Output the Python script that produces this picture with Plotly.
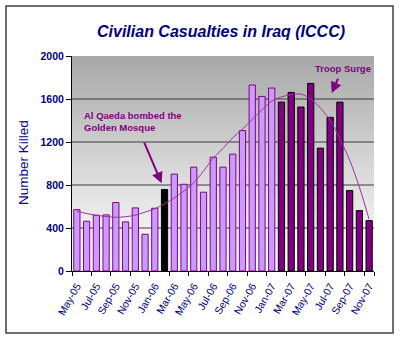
import plotly.graph_objects as go

months = ["May-05", "Jun-05", "Jul-05", "Aug-05", "Sep-05", "Oct-05", "Nov-05", "Dec-05",
          "Jan-06", "Feb-06", "Mar-06", "Apr-06", "May-06", "Jun-06", "Jul-06", "Aug-06",
          "Sep-06", "Oct-06", "Nov-06", "Dec-06", "Jan-07", "Feb-07", "Mar-07", "Apr-07",
          "May-07", "Jun-07", "Jul-07", "Aug-07", "Sep-07", "Oct-07", "Nov-07"]
killed = [571, 463, 519, 522, 637, 457, 587, 342, 584, 758, 901, 807, 966, 733, 1059, 966,
          1087, 1307, 1730, 1624, 1702, 1571, 1661, 1525, 1745, 1143, 1429, 1571, 748, 562, 469]
period = ["before"] * 9 + ["mosque"] + ["before"] * 11 + ["surge"] * 10
trend = [555, 535, 518, 507, 500, 505, 520, 548, 580, 625, 680, 745, 820, 930, 1050, 1140,
         1240, 1320, 1410, 1500, 1580, 1620, 1640, 1645, 1600, 1515, 1400, 1230, 1030, 780, 480]
y_ticks = [0, 400, 800, 1200, 1600, 2000]
x_ticks = months[::2]

fill_map = {"before": "#CC99FF", "mosque": "#000000", "surge": "#800080"}
line_map = {"before": "#800080", "mosque": "#000000", "surge": "#000000"}

navy = "#000080"
purple = "#800080"

fig = go.Figure()
fig.add_trace(go.Bar(
    x=months, y=killed,
    marker=dict(color=[fill_map[p] for p in period],
                line=dict(color=[line_map[p] for p in period], width=1)),
    showlegend=False,
))
fig.add_trace(go.Scatter(
    x=months, y=trend, mode="lines",
    line=dict(color="#9933A0", width=1, shape="spline"),
    showlegend=False,
))

shapes = []
# gradient background for plot area (overlapping bands to avoid seams)
n = 50
top = y_ticks[-1]
for k in range(n):
    t0 = k / n
    t1 = min(1.0, (k + 1.6) / n)
    tm = (k + 0.5) / n
    c = int(round(255 - 88 * tm ** 1.1))
    shapes.append(dict(type="rect", xref="paper", yref="y", x0=0, x1=1,
                       y0=top * t0, y1=top * t1,
                       fillcolor=f"rgb({c},{c},{c})", line=dict(width=0), layer="below"))
for v in y_ticks[1:-1]:
    shapes.append(dict(type="line", xref="paper", yref="y", x0=0, x1=1, y0=v, y1=v,
                       line=dict(color="#3a3a3a", width=1), layer="below"))
# outer frame
shapes.append(dict(type="rect", xref="paper", yref="paper", x0=-0.2185, x1=1.063,
                   y0=-0.2884, y1=1.2326, line=dict(color="#404040", width=1.5)))

annotations = [
    dict(text="<b><i>Civilian Casualties in Iraq (ICCC)</i></b>", xref="paper", yref="paper",
         x=(221 - 72) / 302, y=(271 - 31) / 215, showarrow=False,
         font=dict(family="Arial", size=16, color=navy), xanchor="center", yanchor="middle"),
    dict(text="Number Killed", xref="paper", yref="paper", x=(23 - 72) / 302, y=(271 - 163) / 215,
         textangle=-90, showarrow=False, font=dict(family="Arial", size=13.5, color=navy),
         xanchor="center", yanchor="middle"),
    dict(text="<b>Al Qaeda bombed the<br>Golden Mosque</b>", xref="paper", yref="paper",
         x=(82 - 72) / 302, y=(271 - 121) / 215, showarrow=False, align="left",
         font=dict(family="Arial", size=9.5, color=purple), xanchor="left", yanchor="middle"),
    dict(text="", x=8.7, y=817, xref="x", yref="y", showarrow=True, ax=-18, ay=-42,
         arrowhead=2, arrowsize=1.1, arrowwidth=2, arrowcolor=purple),
    dict(text="<b>Troop Surge</b>", xref="paper", yref="paper",
         x=(343 - 72) / 302, y=(271 - 68) / 215, showarrow=False,
         font=dict(family="Arial", size=9.5, color=purple), xanchor="center", yanchor="middle"),
    dict(text="", x=26.16, y=1655, xref="x", yref="y", showarrow=True, ax=7, ay=-16,
         arrowhead=2, arrowsize=1.1, arrowwidth=2, arrowcolor=purple),
]

fig.update_layout(
    width=400, height=340,
    margin=dict(l=72, r=26, t=56, b=69),
    paper_bgcolor="white", plot_bgcolor="white",
    bargap=0.36,
    shapes=shapes, annotations=annotations,
    font=dict(family="Arial", color=navy),
)
fig.update_xaxes(
    type="category", categoryorder="array", categoryarray=months,
    tickmode="array", tickvals=x_ticks, ticktext=x_ticks,
    tickangle=-60, ticklabelstandoff=4,
    tickson="boundaries", ticks="outside", ticklen=4, tickcolor="black",
    showline=True, linecolor="black", linewidth=1, showgrid=False,
    tickfont=dict(family="Arial", size=10.5, color=navy),
)
fig.update_yaxes(
    range=[0, 2000], tickmode="array", tickvals=y_ticks,
    ticktext=[f"<b>{v}</b>" for v in y_ticks],
    ticks="outside", ticklen=5, tickcolor="black",
    showline=True, linecolor="black", linewidth=1, showgrid=False, zeroline=False,
    tickfont=dict(family="Arial", size=10.5, color=navy),
)

fig.write_html("out.html")
